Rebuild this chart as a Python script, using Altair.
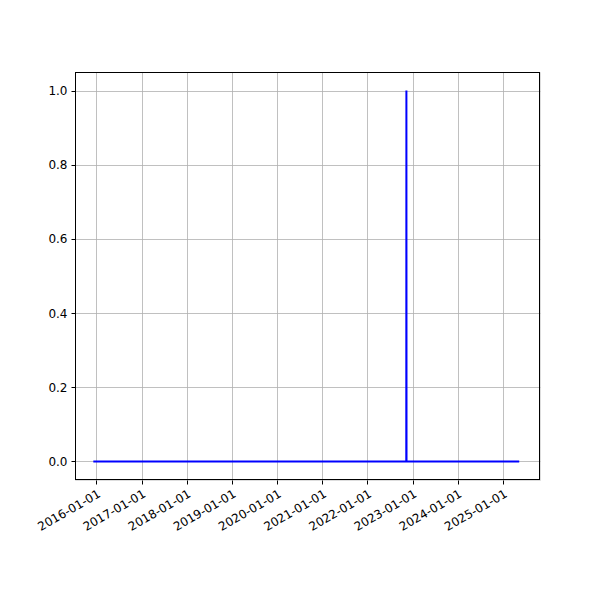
import altair as alt
import pandas as pd

dates = ["2015-12-08", "2022-11-11", "2022-11-12", "2022-11-13", "2025-05-12"]
values = [0, 0, 1, 0, 0]
tick_years = list(range(2016, 2026))
y_ticks = [0.0, 0.2, 0.4, 0.6, 0.8, 1.0]

df = pd.DataFrame({"date": dates, "value": values})

font = "DejaVu Sans"

x = alt.X(
    "date:T",
    scale=alt.Scale(
        type="utc",
        domain=[alt.DateTime(year=2015, month=7, date=13, utc=True),
                alt.DateTime(year=2025, month=10, date=27, utc=True)],
    ),
    axis=alt.Axis(
        title=None,
        values=[alt.DateTime(year=y, month=1, date=1, utc=True) for y in tick_years],
        labelExpr="utcFormat(datum.value, '%Y-%m-%d')",
        labelAngle=-30,
        labelAlign="right",
        labelBaseline="top",
        labelFont=font,
        labelFontSize=12,
        labelColor="black",
        labelPadding=4,
        tickColor="black",
        tickSize=4,
        domain=False,
        grid=True,
        gridColor="#b0b0b0",
        gridWidth=0.8,
        labelOverlap=False,
    ),
)

y = alt.Y(
    "value:Q",
    scale=alt.Scale(domain=[-0.05, 1.05], nice=False, zero=False),
    axis=alt.Axis(
        title=None,
        values=y_ticks,
        format=".1f",
        labelFont=font,
        labelFontSize=12,
        labelColor="black",
        labelPadding=4,
        tickColor="black",
        tickSize=4,
        domain=False,
        grid=True,
        gridColor="#b0b0b0",
        gridWidth=0.8,
    ),
)

line = alt.Chart(df).mark_line(color="blue", strokeWidth=2).encode(x=x, y=y)

frame = alt.Chart(df).mark_rect(fill=None, stroke="black", strokeWidth=1).encode(
    x=alt.value(0.5), x2=alt.value(464.5), y=alt.value(0.5), y2=alt.value(407.5)
)

chart = (
    alt.layer(line, frame)
    .properties(
        width=465,
        height=408,
        autosize=alt.AutoSizeParams(type="none"),
        padding={"left": 67, "top": 64, "right": 52, "bottom": 112},
    )
    .configure_view(strokeWidth=0)
    .configure(background="white")
)

chart.save("out.html", embed_options={"renderer": "svg", "actions": False})
